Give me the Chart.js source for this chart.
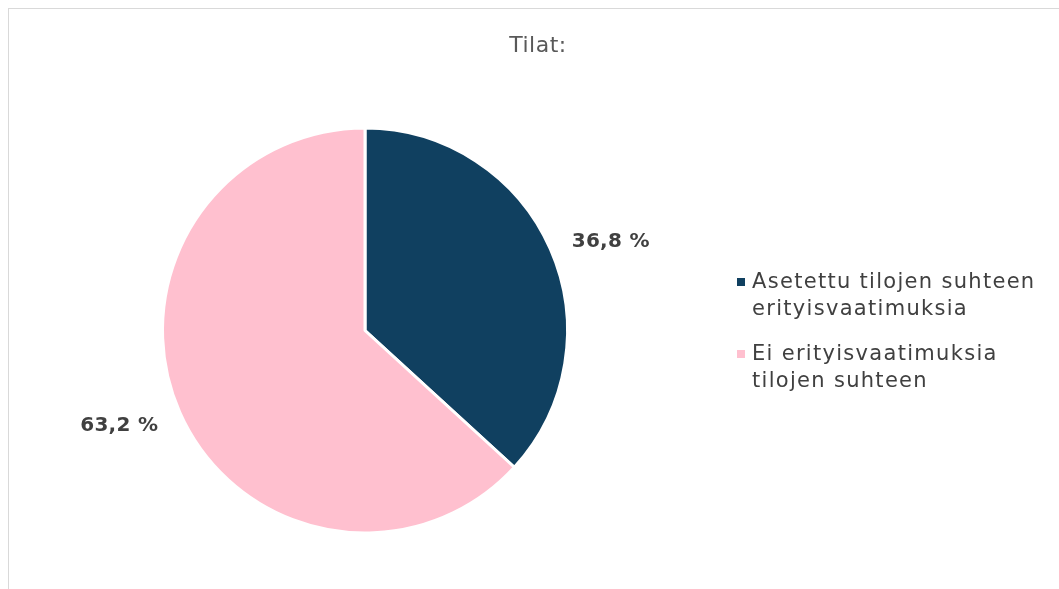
<!DOCTYPE html>
<html>
<head>
<meta charset="utf-8">
<script src="https://cdn.jsdelivr.net/npm/chart.js@4/dist/chart.umd.min.js"></script>
<style>
  html, body { margin: 0; padding: 0; background: #fff; overflow: hidden; }
  #frame { position: absolute; left: 8px; top: 8px; width: 1100px; height: 640px; border: 1px solid #d9d9d9; box-sizing: border-box; }
  #wrap { position: absolute; left: 0; top: 0; width: 1059px; height: 589px; }
</style>
</head>
<body>
<div id="frame"></div>
<div id="wrap"><canvas id="c"></canvas></div>
<script>
const chartTitle = "Tilat:";
const categories = [
  ["Asetettu tilojen suhteen", "erityisvaatimuksia"],
  ["Ei erityisvaatimuksia", "tilojen suhteen"]
];
const values = [36.8, 63.2];
const colors = ["#104060", "#FFC0CF"];

const fontFamily = "'DejaVu Sans', 'Noto Sans', sans-serif";

const decorPlugin = {
  id: 'decor',
  afterDatasetsDraw(chart) {
    const ctx = chart.ctx;
    ctx.save();
    // title
    ctx.fillStyle = '#595959';
    ctx.font = `22px ${fontFamily}`;
    ctx.letterSpacing = '0.5px';
    ctx.textAlign = 'center';
    ctx.textBaseline = 'middle';
    ctx.fillText(chartTitle, 538, 46);

    // data labels outside slices
    const meta = chart.getDatasetMeta(0);
    ctx.font = `bold 20px ${fontFamily}`;
    ctx.letterSpacing = '0.3px';
    ctx.fillStyle = '#404040';
    meta.data.forEach((arc, i) => {
      const p = arc.getProps(['x', 'y', 'startAngle', 'endAngle', 'outerRadius'], true);
      const mid = (p.startAngle + p.endAngle) / 2;
      const x = p.x + Math.cos(mid) * (p.outerRadius + 66);
      const y = p.y + Math.sin(mid) * (p.outerRadius + 26) + 3;
      ctx.fillText(values[i].toFixed(1).replace('.', ',') + ' %', x, y);
    });

    // legend
    ctx.textAlign = 'left';
    ctx.font = `21px ${fontFamily}`;
    ctx.letterSpacing = '1.3px';
    const legendX = 737;
    let y = 282;
    const lineH = 27;
    categories.forEach((lines, i) => {
      ctx.fillStyle = colors[i];
      ctx.fillRect(legendX, y - 4, 8, 8);
      ctx.fillStyle = '#404040';
      lines.forEach((ln, j) => {
        ctx.fillText(ln, legendX + 15, y + 1 + j * lineH);
      });
      y += lines.length * lineH + 18;
    });
    ctx.restore();
  }
};

new Chart(document.getElementById('c'), {
  type: 'pie',
  data: {
    labels: categories.map(l => l.join(' ')),
    datasets: [{
      data: values,
      backgroundColor: colors,
      borderColor: '#ffffff',
      borderWidth: 3
    }]
  },
  options: {
    responsive: true,
    maintainAspectRatio: false,
    animation: false,
    layout: { padding: { left: 161, right: 490, top: 126, bottom: 54 } },
    plugins: {
      legend: { display: false },
      title: { display: false },
      tooltip: { enabled: false }
    }
  },
  plugins: [decorPlugin]
});
</script>
</body>
</html>
